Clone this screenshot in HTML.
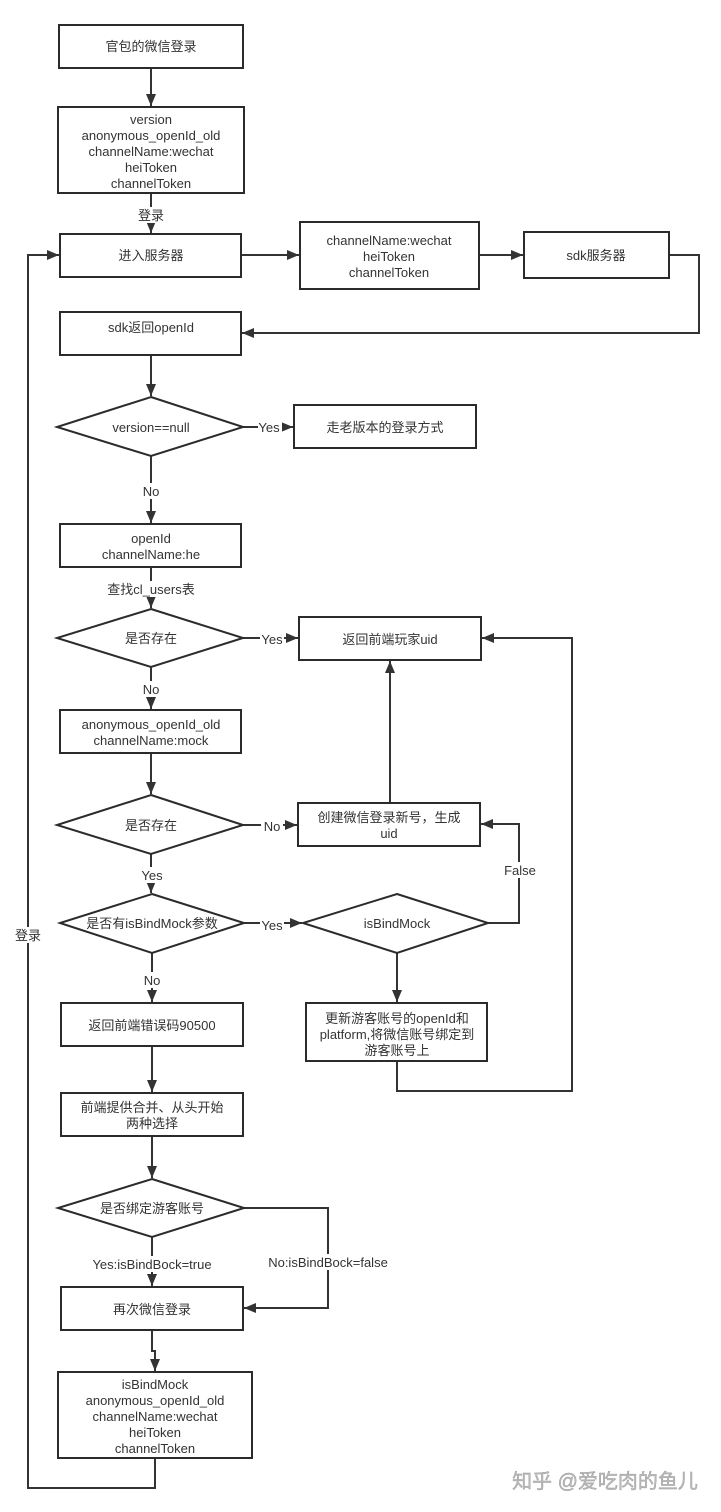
<!DOCTYPE html>
<html><head><meta charset="utf-8"><style>
html,body{margin:0;padding:0;background:#fff;}
svg{display:block;}
text{font-family:"Liberation Sans","Noto Sans CJK SC",sans-serif;font-size:13px;fill:#333;text-anchor:middle;}
.b{fill:#fff;stroke:#2b2b2b;stroke-width:2;}
.l{fill:none;stroke:#333;stroke-width:2;}
</style></head><body>
<svg width="721" height="1512" viewBox="0 0 721 1512" xmlns="http://www.w3.org/2000/svg">
<defs>
<marker id="a" viewBox="0 0 12 10" refX="12" refY="5" markerWidth="12" markerHeight="10" markerUnits="userSpaceOnUse" orient="auto">
<path d="M0,0 L12,5 L0,10 z" fill="#333"/></marker>
</defs>
<rect width="721" height="1512" fill="#fff"/>

<line class="l" x1="151" y1="68" x2="151" y2="106" marker-end="url(#a)"/>
<line class="l" x1="151" y1="193" x2="151" y2="233" marker-end="url(#a)"/>
<line class="l" x1="241" y1="255" x2="299" y2="255" marker-end="url(#a)"/>
<line class="l" x1="479" y1="255" x2="523" y2="255" marker-end="url(#a)"/>
<polyline class="l" points="669,255 699,255 699,333 242,333" marker-end="url(#a)"/>
<line class="l" x1="151" y1="355" x2="151" y2="396" marker-end="url(#a)"/>
<line class="l" x1="243" y1="427" x2="293" y2="427" marker-end="url(#a)"/>
<line class="l" x1="151" y1="456" x2="151" y2="523" marker-end="url(#a)"/>
<line class="l" x1="151" y1="567" x2="151" y2="608" marker-end="url(#a)"/>
<line class="l" x1="243" y1="638" x2="298" y2="638" marker-end="url(#a)"/>
<line class="l" x1="151" y1="667" x2="151" y2="709" marker-end="url(#a)"/>
<line class="l" x1="151" y1="753" x2="151" y2="794" marker-end="url(#a)"/>
<line class="l" x1="243" y1="825" x2="297" y2="825" marker-end="url(#a)"/>
<line class="l" x1="390" y1="803" x2="390" y2="661" marker-end="url(#a)"/>
<line class="l" x1="151" y1="854" x2="151" y2="893" marker-end="url(#a)"/>
<line class="l" x1="244" y1="923" x2="302" y2="923" marker-end="url(#a)"/>
<polyline class="l" points="488,923 519,923 519,824 481,824" marker-end="url(#a)"/>
<line class="l" x1="397" y1="953" x2="397" y2="1002" marker-end="url(#a)"/>
<polyline class="l" points="397,1061 397,1091 572,1091 572,638 482,638" marker-end="url(#a)"/>
<line class="l" x1="152" y1="953" x2="152" y2="1002" marker-end="url(#a)"/>
<line class="l" x1="152" y1="1046" x2="152" y2="1092" marker-end="url(#a)"/>
<line class="l" x1="152" y1="1136" x2="152" y2="1178" marker-end="url(#a)"/>
<polyline class="l" points="244,1208 328,1208 328,1308 244,1308" marker-end="url(#a)"/>
<line class="l" x1="152" y1="1237" x2="152" y2="1286" marker-end="url(#a)"/>
<polyline class="l" points="152,1330 152,1351 155,1351 155,1371" marker-end="url(#a)"/>
<polyline class="l" points="155,1458 155,1488 28,1488 28,255 59,255" marker-end="url(#a)"/>

<rect class="b" x="59" y="25" width="184" height="43"/>
<text x="151" y="51">官包的微信登录</text>
<rect class="b" x="58" y="107" width="186" height="86"/>
<text x="151" y="124">version</text>
<text x="151" y="140">anonymous_openId_old</text>
<text x="151" y="156">channelName:wechat</text>
<text x="151" y="172">heiToken</text>
<text x="151" y="188">channelToken</text>
<rect x="132" y="207" width="38" height="16" fill="#fff"/>
<text x="151" y="220">登录</text>
<rect class="b" x="60" y="234" width="181" height="43"/>
<text x="151" y="260">进入服务器</text>
<rect class="b" x="300" y="222" width="179" height="67"/>
<text x="389" y="245">channelName:wechat</text>
<text x="389" y="261">heiToken</text>
<text x="389" y="277">channelToken</text>
<rect class="b" x="524" y="232" width="145" height="46"/>
<text x="596" y="260">sdk服务器</text>
<rect class="b" x="60" y="312" width="181" height="43"/>
<text x="151" y="332">sdk返回openId</text>

<polygon class="b" points="151,397 243,427 151,456 57,427"/>
<text x="151" y="432">version==null</text>
<rect x="258" y="419" width="24" height="16" fill="#fff"/>
<text x="269" y="432">Yes</text>
<rect class="b" x="294" y="405" width="182" height="43"/>
<text x="385" y="432">走老版本的登录方式</text>
<rect x="139" y="483" width="24" height="16" fill="#fff"/>
<text x="151" y="496">No</text>

<rect class="b" x="60" y="524" width="181" height="43"/>
<text x="151" y="543">openId</text>
<text x="151" y="559">channelName:he</text>
<rect x="106" y="581" width="90" height="16" fill="#fff"/>
<text x="151" y="594">查找cl_users表</text>
<polygon class="b" points="151,609 243,638 151,667 57,638"/>
<text x="151" y="643">是否存在</text>
<rect x="260" y="631" width="24" height="16" fill="#fff"/>
<text x="272" y="644">Yes</text>
<rect class="b" x="299" y="617" width="182" height="43"/>
<text x="390" y="644">返回前端玩家uid</text>
<rect x="139" y="681" width="24" height="16" fill="#fff"/>
<text x="151" y="694">No</text>

<rect class="b" x="60" y="710" width="181" height="43"/>
<text x="151" y="729">anonymous_openId_old</text>
<text x="151" y="745">channelName:mock</text>
<polygon class="b" points="151,795 243,825 151,854 57,825"/>
<text x="151" y="830">是否存在</text>
<rect x="261" y="818" width="22" height="16" fill="#fff"/>
<text x="272" y="831">No</text>
<rect class="b" x="298" y="803" width="182" height="43"/>
<text x="389" y="822">创建微信登录新号，生成</text>
<text x="389" y="838">uid</text>
<rect x="140" y="867" width="24" height="16" fill="#fff"/>
<text x="152" y="880">Yes</text>

<polygon class="b" points="152,894 244,923 152,953 60,923"/>
<text x="152" y="928">是否有isBindMock参数</text>
<rect x="260" y="917" width="24" height="16" fill="#fff"/>
<text x="272" y="930">Yes</text>
<polygon class="b" points="397,894 488,923 397,953 303,923"/>
<text x="397" y="928">isBindMock</text>
<rect x="502" y="862" width="36" height="16" fill="#fff"/>
<text x="520" y="875">False</text>
<rect class="b" x="306" y="1003" width="181" height="58"/>
<text x="397" y="1023">更新游客账号的openId和</text>
<text x="397" y="1039">platform,将微信账号绑定到</text>
<text x="397" y="1055">游客账号上</text>
<rect x="140" y="972" width="24" height="16" fill="#fff"/>
<text x="152" y="985">No</text>

<rect class="b" x="61" y="1003" width="182" height="43"/>
<text x="152" y="1030">返回前端错误码90500</text>
<rect class="b" x="61" y="1093" width="182" height="43"/>
<text x="152" y="1112">前端提供合并、从头开始</text>
<text x="152" y="1128">两种选择</text>
<polygon class="b" points="152,1179 244,1208 152,1237 58,1208"/>
<text x="152" y="1213">是否绑定游客账号</text>
<rect x="86" y="1256" width="132" height="16" fill="#fff"/>
<text x="152" y="1269">Yes:isBindBock=true</text>
<rect x="262" y="1254" width="132" height="16" fill="#fff"/>
<text x="328" y="1267">No:isBindBock=false</text>
<rect class="b" x="61" y="1287" width="182" height="43"/>
<text x="152" y="1314">再次微信登录</text>
<rect class="b" x="58" y="1372" width="194" height="86"/>
<text x="155" y="1389">isBindMock</text>
<text x="155" y="1405">anonymous_openId_old</text>
<text x="155" y="1421">channelName:wechat</text>
<text x="155" y="1437">heiToken</text>
<text x="155" y="1453">channelToken</text>

<rect x="13" y="927" width="30" height="16" fill="#fff"/>
<text x="28" y="940">登录</text>

<text x="605" y="1488" style="font-size:20px;fill:#bbb;stroke:#999;stroke-width:0.4">知乎 @爱吃肉的鱼儿</text>
</svg>
</body></html>
